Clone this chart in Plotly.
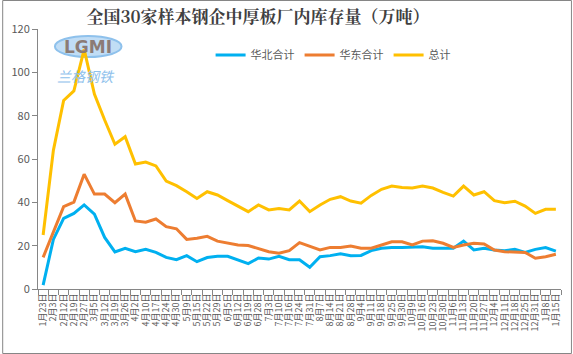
import plotly.graph_objects as go

dates = ["1月23日","2月3日","2月12日","2月19日","2月27日","3月5日","3月12日","3月19日","3月26日",
         "4月2日","4月10日","4月17日","4月24日","4月30日","5月9日","5月15日","5月22日","5月29日",
         "6月5日","6月12日","6月19日","6月28日","7月3日","7月10日","7月16日","7月24日","7月31日",
         "8月7日","8月14日","8月21日","8月28日","9月4日","9月11日","9月18日","9月25日","9月30日",
         "10月9日","10月16日","10月23日","10月30日","11月6日","11月13日","11月20日","11月27日",
         "12月4日","12月11日","12月18日","12月25日","12月31日","1月8日","1月15日"]

huabei = [1.8,22.9,32.6,34.9,38.8,34.6,23.8,17.1,18.8,17.2,18.3,16.9,14.6,13.5,15.4,12.6,14.5,
          15.1,15.1,13.4,11.7,14.3,13.8,15.1,13.5,13.5,10.0,14.9,15.4,16.3,15.4,15.5,17.7,18.8,
          19.2,19.2,19.2,19.5,18.8,18.8,18.8,22.1,18.0,18.8,18.0,17.7,18.3,16.9,18.3,19.1,17.5]

huadong = [14.6,26.5,38.0,40.1,53.0,43.8,43.8,39.8,43.8,31.4,30.8,32.3,28.8,27.8,22.9,23.4,24.3,
           22.1,21.1,20.3,20.1,18.8,17.2,16.5,17.7,21.4,19.8,18.0,19.2,19.2,19.8,18.8,18.8,20.3,
           21.8,21.8,20.3,22.1,22.3,21.1,19.2,20.3,21.1,20.8,18.0,17.2,17.2,16.9,14.2,14.9,16.0]

total = [24.9,64.0,87.0,91.4,110.6,90.0,78.0,66.8,70.3,57.7,58.6,56.8,49.8,47.7,44.9,41.8,44.9,
         43.4,40.8,38.3,35.7,38.8,36.5,37.2,36.5,40.6,35.7,38.8,41.4,42.6,40.6,39.6,43.2,46.0,
         47.5,46.8,46.6,47.5,46.6,44.6,42.9,47.5,43.4,44.9,40.8,39.8,40.5,38.3,34.9,36.8,36.8]

series_names = ["华北合计", "华东合计", "总计"]
colors = ["#00B0F0", "#ED7D31", "#FFC000"]

fig = go.Figure()
for name, vals, c in zip(series_names, [huabei, huadong, total], colors):
    fig.add_trace(go.Scatter(x=dates, y=vals, mode="lines", name=name,
                             line=dict(color=c, width=3)))

W, H = 573, 354
L, R, T, B = 36, 11, 29, 65
pw, ph = W - L - R, H - T - B

fig.update_layout(
    width=W, height=H,
    margin=dict(l=L, r=R, t=T, b=B),
    paper_bgcolor="white", plot_bgcolor="white",
    font=dict(family="Noto Sans CJK SC, sans-serif", color="#595959"),
    title=dict(text="<b>全国30家样本钢企中厚板厂内库存量（万吨）</b>",
               x=258 / W, xref="container", xanchor="center", y=1 - 17 / H, yanchor="middle",
               font=dict(size=17, color="#404040", family="Noto Serif CJK SC, Noto Sans CJK SC, serif")),
    legend=dict(orientation="h", x=0.33, y=(H - 55 - B) / ph, xanchor="left", yanchor="middle",
                font=dict(size=11, color="#595959"), bgcolor="rgba(0,0,0,0)",
                itemwidth=30, traceorder="normal"),
    showlegend=True,
)

fig.update_xaxes(type="category", range=[-0.5, len(dates) - 0.5],
                 tickmode="array", tickvals=dates, ticktext=dates,
                 tickangle=-90, tickfont=dict(size=9, color="#595959"),
                 showline=True, linecolor="#868686", linewidth=1,
                 ticks="outside", tickson="boundaries", ticklen=5, tickcolor="#868686",
                 showgrid=False, zeroline=False)
fig.update_yaxes(range=[0, 120], dtick=20, tickfont=dict(size=11, color="#595959"),
                 showline=True, linecolor="#868686", linewidth=1,
                 ticks="outside", ticklen=5, tickcolor="#868686",
                 showgrid=False, zeroline=False)

# outer border
fig.add_shape(type="rect", xref="paper", yref="paper",
              x0=(0.5 - L) / pw, x1=(W - 0.5 - L) / pw,
              y0=-(B - 0.5) / ph, y1=1 + (T - 0.5) / ph,
              line=dict(color="#868686", width=1), layer="below")

# watermark logo
fig.add_shape(type="circle", xref="paper", yref="paper",
              x0=(53 - L) / pw, x1=(120 - L) / pw,
              y0=(H - 57 - B) / ph, y1=(H - 36 - B) / ph,
              line=dict(color="#8EC1EC", width=2), fillcolor="rgba(142,193,236,0.55)", layer="below")
fig.add_annotation(text="<b>LGMI</b>", xref="paper", yref="paper", xanchor="center", yanchor="middle",
                   x=(86 - L) / pw, y=(H - 47 - B) / ph, showarrow=False,
                   font=dict(size=17, color="#8C7B75", family="DejaVu Sans"))
fig.add_annotation(text="<i>兰格钢铁</i>", xref="paper", yref="paper", xanchor="center", yanchor="middle",
                   x=(84 - L) / pw, y=(H - 76 - B) / ph, showarrow=False,
                   font=dict(size=14, color="#8EC1EC"))

fig.write_html("out.html")
